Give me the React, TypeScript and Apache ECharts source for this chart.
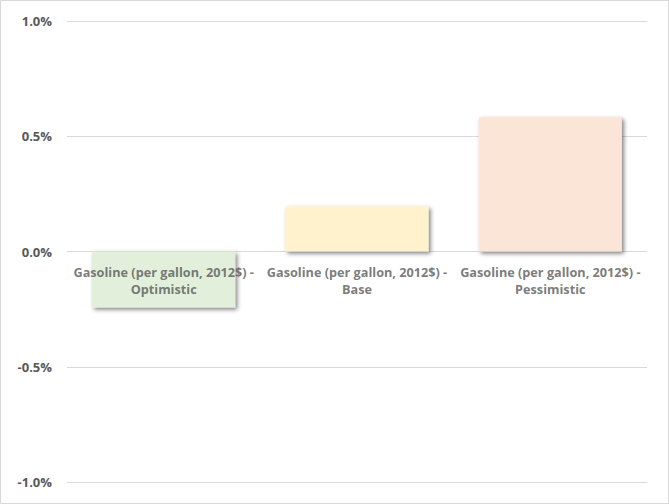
import { useEffect, useRef } from 'react'
import * as echarts from 'echarts'

const categories = [
  'Gasoline (per gallon, 2012$) - Optimistic',
  'Gasoline (per gallon, 2012$) - Base',
  'Gasoline (per gallon, 2012$) - Pessimistic',
]
const values = [-0.243, 0.195, 0.582]
const barColors = ['#e2efda', '#fff2cc', '#fbe5d6']
const yTicks = [-1, -0.5, 0, 0.5, 1]

export default function App() {
  const chartRef = useRef<HTMLDivElement>(null)

  useEffect(() => {
    if (!chartRef.current) return
    const chart = echarts.init(chartRef.current, undefined, { renderer: 'svg' })

    const option = {
      animation: false,
      backgroundColor: '#ffffff',
      graphic: [
        {
          type: 'rect',
          shape: { x: 0.5, y: 0.5, width: 668, height: 503 },
          style: { fill: 'none', stroke: '#d9d9d9', lineWidth: 1 },
          silent: true,
        },
      ],
      grid: { left: 67, right: 22, top: 21, bottom: 22, outerBoundsMode: 'none', containLabel: false },
      xAxis: {
        type: 'category',
        data: categories,
        axisLine: { show: false },
        axisTick: { show: false },
        splitLine: { show: false },
        axisLabel: { show: false },
      },
      yAxis: {
        type: 'value',
        min: yTicks[0],
        max: yTicks[yTicks.length - 1],
        interval: 0.5,
        axisLine: { show: false },
        axisTick: { show: false },
        splitLine: { lineStyle: { color: '#d9d9d9', width: 1 } },
        axisLabel: {
          margin: 15,
          color: '#595959',
          fontFamily: 'Open Sans',
          fontWeight: 'bold',
          fontSize: 13,
          formatter: (v: number) => v.toFixed(1) + '%',
        },
      },
      series: [
        {
          type: 'bar',
          barWidth: '74%',
          data: values.map((v, i) => ({
            value: v,
            itemStyle: {
              color: barColors[i],
              shadowColor: 'rgba(0,0,0,0.5)',
              shadowBlur: 4,
              shadowOffsetX: 2,
              shadowOffsetY: 2,
            },
          })),
        },
        {
          // category labels sitting on the zero line
          type: 'scatter',
          z: 10,
          symbolSize: 0,
          silent: true,
          data: categories.map((c) => [c, 0]),
          label: {
            show: true,
            position: 'bottom',
            distance: 12,
            color: '#595959',
            fontFamily: 'Open Sans',
            fontWeight: 'bold',
            fontSize: 12.7,
            lineHeight: 17,
            align: 'center',
            formatter: (p: any) => String(p.value[0]).replace(' - ', ' -\n'),
          },
        },
      ],
    }

    chart.setOption(option)
    return () => chart.dispose()
  }, [])

  return (
    <div
      ref={chartRef}
      style={{ position: 'fixed', left: 0, top: 0, width: 669, height: 504 }}
    />
  )
}
